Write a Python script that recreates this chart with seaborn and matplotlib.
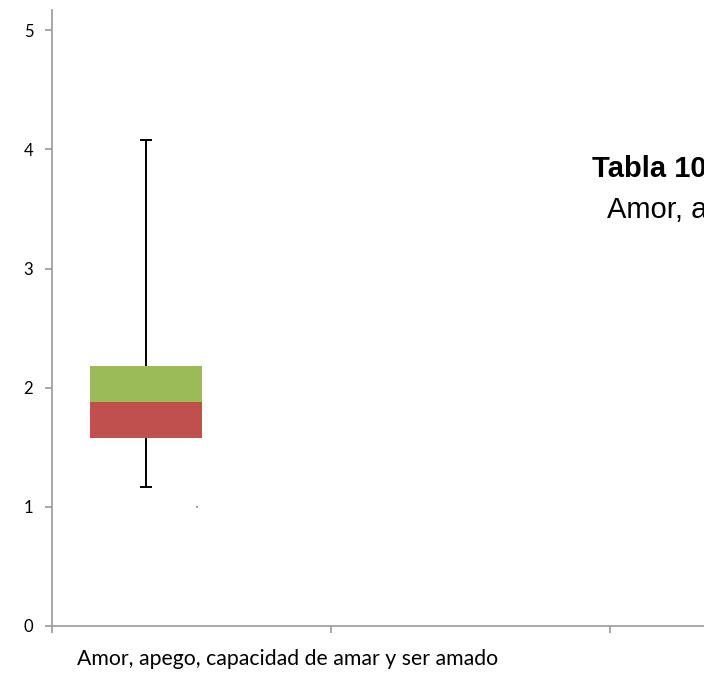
import matplotlib
matplotlib.use("Agg")
import matplotlib.pyplot as plt
import pandas as pd
import seaborn as sns

# datos de la caja
categoria = ["Amor, apego, capacidad de amar y ser amado"]
posicion = [0.337]
q1 = [1.58]
mediana = [1.88]
q3 = [2.18]
bigote_min = [1.17]
bigote_max = [4.08]
punto_x = [0.52]
punto_y = [1.0]

y_ticks = [0, 1, 2, 3, 4, 5]
x_ticks = [0, 1, 2, 3]

sns.set_style("white")
plt.rcParams["font.family"] = ["Lato", "DejaVu Sans"]

W, H = 704, 673
fig = plt.figure(figsize=(W / 100, H / 100), dpi=100)
ax = fig.add_axes([52 / W, 47 / H, 837 / W, 616 / H])

df = pd.DataFrame({
    "pos": posicion, "q1": q1, "med": mediana, "q3": q3,
    "lo": bigote_min, "hi": bigote_max,
})

# bigotes (por debajo de las barras)
ax.errorbar(df["pos"], df["med"],
            yerr=[df["med"] - df["lo"], df["hi"] - df["med"]],
            fmt="none", ecolor="black", elinewidth=1.4, capsize=4,
            capthick=1.4, zorder=1)

# caja apilada: parte inferior roja, superior verde
ax.bar(df["pos"], df["med"] - df["q1"], bottom=df["q1"], width=0.40,
       color="#C0504D", edgecolor="none", zorder=2)
ax.bar(df["pos"], df["q3"] - df["med"], bottom=df["med"], width=0.40,
       color="#9BBB59", edgecolor="none", zorder=2)

sns.scatterplot(x=punto_x, y=punto_y, ax=ax, color="#808080", s=2,
                edgecolor="none", zorder=3)

ax.set_xlim(0, 3)
ax.set_ylim(0, 5.17)
ax.set_xticks(x_ticks)
ax.set_xticklabels([])
ax.set_yticks(y_ticks)
ax.set_yticklabels([str(t) for t in y_ticks], fontsize=12, color="black")

for s in ["top", "right"]:
    ax.spines[s].set_visible(False)
for s in ["left", "bottom"]:
    ax.spines[s].set_color("#a0a0a0")
    ax.spines[s].set_linewidth(1.3)
ax.tick_params(axis="both", direction="out", length=5, width=1.3,
               color="#a0a0a0", left=True, bottom=True)
ax.tick_params(axis="y", pad=8.5)
ax.grid(False)

# etiqueta de la categoria
fig.text(77 / W, 1 - 665 / H, categoria[0], fontsize=15.3, color="black",
         ha="left", va="baseline")

# titulo superpuesto (cortado en el borde derecho de la imagen original)
fig.text(592 / W, 1 - 177 / H, "Tabla 10", fontsize=21, fontweight="bold",
         color="black", family=["Liberation Sans", "DejaVu Sans"],
         ha="left", va="baseline")
fig.text(607 / W, 1 - 218 / H, "Amor, apego, capacidad de amar y ser amado",
         fontsize=21, color="black", family=["Liberation Sans", "DejaVu Sans"],
         ha="left", va="baseline")

fig.savefig("out.png", dpi=100)
